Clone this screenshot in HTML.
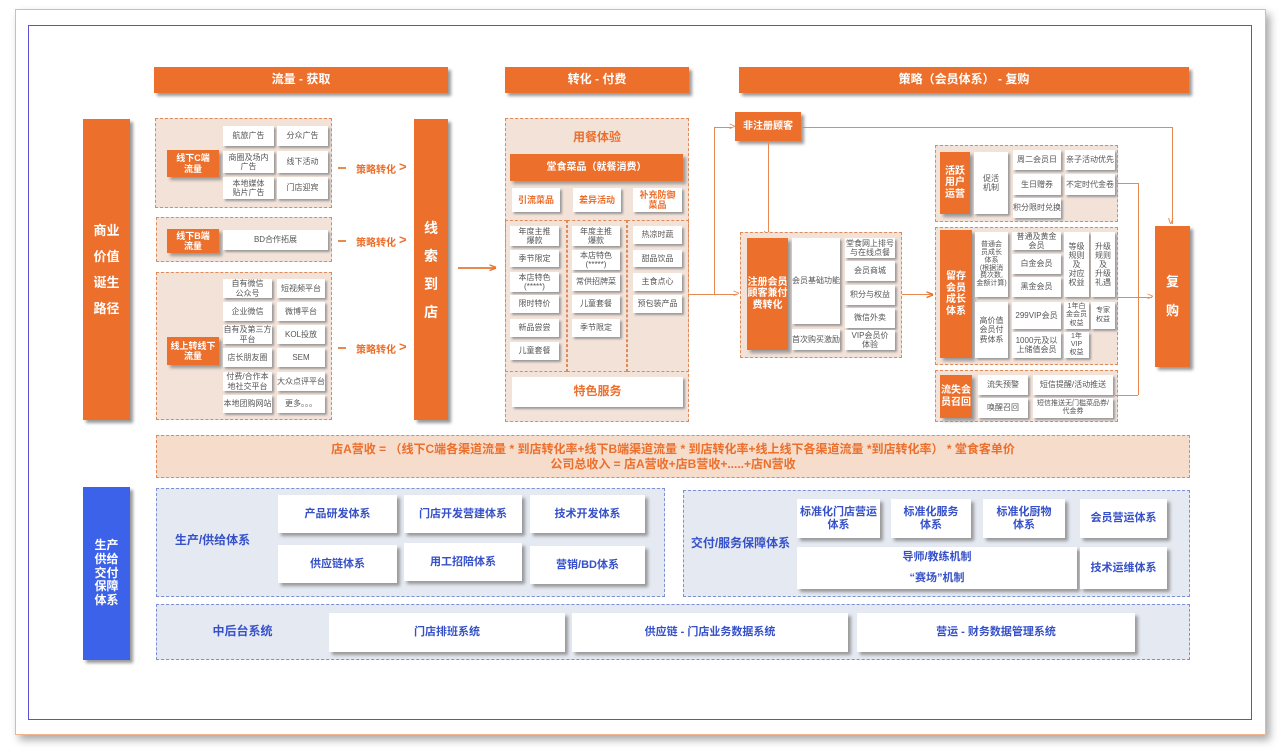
<!DOCTYPE html>
<html><head><meta charset="utf-8">
<style>
*{margin:0;padding:0;box-sizing:border-box}
body{width:1280px;height:755px;background:#fff;position:relative;overflow:hidden;font-family:"Liberation Sans","Noto Sans CJK SC",sans-serif}
div{position:absolute}
.c{display:flex;align-items:center;justify-content:center;text-align:center;line-height:1.15}
.o{background:#ec6f2c;color:#fff;font-weight:bold;box-shadow:3px 3px 3px #9a9a9a}
.w{background:#fff;color:#555;font-size:8px;box-shadow:2px 2px 2px #9a9a9a}
.db{border:1px dashed #e08a5a;background:#f3e2d8}
.bb{border:1px dashed #7d8fd6;background:#e4e9f2}
.bw{background:#fff;color:#3550c8;font-size:11px;font-weight:bold;box-shadow:3px 3px 3px #999}
.ln{background:#e8894f}
.ar{color:#e8894f;font-size:11px;line-height:10px}
.st{color:#ec6f2c;font-size:10px;font-weight:bold}
.ah{color:#ec6f2c;font-size:13px;font-weight:bold;line-height:12px}
</style></head><body>
<div style="left:15px;top:9px;width:1251px;height:726px;border:1px solid #f0b48e;box-shadow:4px 5px 8px #aaa;background:#fff"></div>
<div style="left:28px;top:25px;width:1224px;height:695px;border:1px solid #5a50d0"></div>

<div class="c o" style="left:154px;top:67px;width:294px;height:26px;font-size:12px">流量 - 获取</div>
<div class="c o" style="left:505px;top:67px;width:184px;height:26px;font-size:12px">转化 - 付费</div>
<div class="c o" style="left:739px;top:67px;width:450px;height:26px;font-size:12px">策略（会员体系） - 复购</div>

<div class="c o" style="left:83px;top:119px;width:47px;height:301px;font-size:13px;line-height:2">商业<br>价值<br>诞生<br>路径</div>
<div class="c" style="left:83px;top:487px;width:47px;height:173px;font-size:12px;background:#3d62ea;color:#fff;font-weight:bold;box-shadow:3px 3px 3px #999">生产<br>供给<br>交付<br>保障<br>体系</div>

<div class="db" style="left:155px;top:118px;width:177px;height:90px"></div>
<div class="c o" style="left:167px;top:150px;width:52px;height:27px;font-size:9px">线下C端<br>流量</div>
<div class="c w" style="left:223px;top:126px;width:51px;height:20px">航旅广告</div>
<div class="c w" style="left:277px;top:126px;width:51px;height:20px">分众广告</div>
<div class="c w" style="left:223px;top:151px;width:51px;height:22px">商圈及场内<br>广告</div>
<div class="c w" style="left:277px;top:151px;width:51px;height:22px">线下活动</div>
<div class="c w" style="left:223px;top:177px;width:51px;height:22px">本地媒体<br>贴片广告</div>
<div class="c w" style="left:277px;top:177px;width:51px;height:22px">门店迎宾</div>

<div class="db" style="left:156px;top:217px;width:176px;height:45px"></div>
<div class="c o" style="left:167px;top:229px;width:52px;height:24px;font-size:9px">线下B端<br>流量</div>
<div class="c w" style="left:223px;top:230px;width:105px;height:20px">BD合作拓展</div>

<div class="db" style="left:156px;top:272px;width:176px;height:148px"></div>
<div class="c o" style="left:167px;top:337px;width:52px;height:28px;font-size:9px">线上转线下<br>流量</div>
<div class="c w" style="left:223px;top:279px;width:49px;height:19px">自有微信<br>公众号</div>
<div class="c w" style="left:277px;top:279px;width:48px;height:19px">短视频平台</div>
<div class="c w" style="left:223px;top:302px;width:49px;height:19px">企业微信</div>
<div class="c w" style="left:277px;top:302px;width:48px;height:19px">微博平台</div>
<div class="c w" style="left:223px;top:325px;width:49px;height:19px">自有及第三方<br>平台</div>
<div class="c w" style="left:277px;top:325px;width:48px;height:19px">KOL投放</div>
<div class="c w" style="left:223px;top:348px;width:49px;height:19px">店长朋友圈</div>
<div class="c w" style="left:277px;top:348px;width:48px;height:19px">SEM</div>
<div class="c w" style="left:223px;top:372px;width:49px;height:19px">付费/合作本<br>地社交平台</div>
<div class="c w" style="left:277px;top:372px;width:48px;height:19px">大众点评平台</div>
<div class="c w" style="left:223px;top:395px;width:49px;height:18px">本地团购网站</div>
<div class="c w" style="left:277px;top:395px;width:48px;height:18px">更多。。。</div>

<div class="ln" style="left:338px;top:167px;width:8px;height:2px"></div><div class="st" style="left:356px;top:161px">策略转化</div><div class="ah" style="left:399px;top:161px">&gt;</div>
<div class="ln" style="left:338px;top:240px;width:8px;height:2px"></div><div class="st" style="left:356px;top:234px">策略转化</div><div class="ah" style="left:399px;top:234px">&gt;</div>
<div class="ln" style="left:338px;top:347px;width:8px;height:2px"></div><div class="st" style="left:356px;top:341px">策略转化</div><div class="ah" style="left:399px;top:341px">&gt;</div>

<div class="c o" style="left:414px;top:119px;width:34px;height:301px;font-size:14px;line-height:2">线<br>索<br>到<br>店</div>
<div class="ln" style="left:458px;top:267px;width:38px;height:2px"></div><div class="ah" style="left:489px;top:262px">&gt;</div>

<div class="db" style="left:505px;top:118px;width:184px;height:304px"></div>
<div class="c" style="left:505px;top:128px;width:184px;height:20px;color:#ec6f2c;font-weight:bold;font-size:12px">用餐体验</div>
<div class="c o" style="left:510px;top:154px;width:173px;height:27px;font-size:10px">堂食菜品（就餐消费）</div>
<div class="c w" style="left:512px;top:188px;width:48px;height:24px;color:#ec6f2c;font-weight:bold;font-size:9px">引流菜品</div>
<div class="c w" style="left:573px;top:188px;width:48px;height:24px;color:#ec6f2c;font-weight:bold;font-size:9px">差异活动</div>
<div class="c w" style="left:633px;top:188px;width:49px;height:24px;color:#ec6f2c;font-weight:bold;font-size:9px">补充防御<br>菜品</div>
<div style="left:505px;top:220px;width:62px;height:152px;border:1px dashed #e08a5a"></div>
<div style="left:567px;top:220px;width:60px;height:152px;border:1px dashed #e08a5a"></div>
<div style="left:627px;top:220px;width:62px;height:152px;border:1px dashed #e08a5a"></div>
<div class="c w" style="left:510px;top:226px;width:49px;height:20px">年度主推<br>爆款</div>
<div class="c w" style="left:510px;top:250px;width:49px;height:17px">季节限定</div>
<div class="c w" style="left:510px;top:272px;width:49px;height:20px">本店特色<br>(*****)</div>
<div class="c w" style="left:510px;top:295px;width:49px;height:18px">限时特价</div>
<div class="c w" style="left:510px;top:319px;width:49px;height:18px">新品尝尝</div>
<div class="c w" style="left:510px;top:342px;width:49px;height:18px">儿童套餐</div>
<div class="c w" style="left:572px;top:226px;width:48px;height:20px">年度主推<br>爆款</div>
<div class="c w" style="left:572px;top:250px;width:48px;height:20px">本店特色<br>(*****)</div>
<div class="c w" style="left:572px;top:273px;width:48px;height:18px">常供招牌菜</div>
<div class="c w" style="left:572px;top:295px;width:48px;height:18px">儿童套餐</div>
<div class="c w" style="left:572px;top:319px;width:48px;height:18px">季节限定</div>
<div class="c w" style="left:633px;top:226px;width:49px;height:18px">热凉时蔬</div>
<div class="c w" style="left:633px;top:250px;width:49px;height:17px">甜品饮品</div>
<div class="c w" style="left:633px;top:273px;width:49px;height:18px">主食点心</div>
<div class="c w" style="left:633px;top:295px;width:49px;height:18px">预包装产品</div>
<div class="c w" style="left:512px;top:377px;width:171px;height:30px;color:#ec6f2c;font-weight:bold;font-size:12px">特色服务</div>

<div class="ln" style="left:689px;top:294px;width:48px;height:1px"></div><div class="ar" style="left:733px;top:289px">&gt;</div>
<div class="ln" style="left:714px;top:127px;width:1px;height:168px"></div>
<div class="ln" style="left:714px;top:127px;width:18px;height:1px"></div><div class="ar" style="left:729px;top:122px">&gt;</div>
<div class="c o" style="left:735px;top:112px;width:66px;height:29px;font-size:10px">非注册顾客</div>
<div class="ln" style="left:768px;top:141px;width:1px;height:96px"></div><div class="ar" style="left:764px;top:229px">v</div>
<div class="ln" style="left:801px;top:127px;width:371px;height:1px"></div>
<div class="ln" style="left:1172px;top:127px;width:1px;height:97px"></div><div class="ar" style="left:1168px;top:216px">v</div>

<div class="db" style="left:740px;top:232px;width:162px;height:126px"></div>
<div class="c o" style="left:747px;top:238px;width:41px;height:112px;font-size:10px">注册会员<br>顾客兼付<br>费转化</div>
<div class="c w" style="left:792px;top:238px;width:48px;height:86px">会员基础功能</div>
<div class="c w" style="left:792px;top:329px;width:48px;height:21px">首次购买激励</div>
<div class="c w" style="left:845px;top:238px;width:50px;height:20px">堂食网上排号<br>与在线点餐</div>
<div class="c w" style="left:845px;top:261px;width:50px;height:20px">会员商城</div>
<div class="c w" style="left:845px;top:285px;width:50px;height:20px">积分与权益</div>
<div class="c w" style="left:845px;top:308px;width:50px;height:20px">微信外卖</div>
<div class="c w" style="left:845px;top:330px;width:50px;height:20px">VIP会员价<br>体验</div>
<div class="ln" style="left:902px;top:294px;width:30px;height:1px"></div><div class="ah" style="left:926px;top:289px">&gt;</div>

<div class="db" style="left:935px;top:145px;width:183px;height:77px"></div>
<div class="c o" style="left:940px;top:152px;width:30px;height:62px;font-size:10px">活跃<br>用户<br>运营</div>
<div class="c w" style="left:974px;top:152px;width:34px;height:62px">促活<br>机制</div>
<div class="c w" style="left:1013px;top:150px;width:48px;height:20px">周二会员日</div>
<div class="c w" style="left:1065px;top:150px;width:50px;height:20px">亲子活动优先</div>
<div class="c w" style="left:1013px;top:174px;width:48px;height:21px">生日赠券</div>
<div class="c w" style="left:1065px;top:174px;width:50px;height:21px">不定时代金卷</div>
<div class="c w" style="left:1013px;top:198px;width:48px;height:20px">积分限时兑换</div>

<div class="db" style="left:935px;top:227px;width:183px;height:138px"></div>
<div class="c o" style="left:940px;top:230px;width:32px;height:128px;font-size:10px">留存<br>会员<br>成长<br>体系</div>
<div class="c w" style="left:975px;top:232px;width:33px;height:65px;font-size:7px;line-height:1.1">普通会<br>员成长<br>体系<br>(根据消<br>费次数,<br>金额计算)</div>
<div class="c w" style="left:975px;top:302px;width:33px;height:56px">高价值<br>会员付<br>费体系</div>
<div class="c w" style="left:1012px;top:232px;width:49px;height:18px">普通及黄金<br>会员</div>
<div class="c w" style="left:1012px;top:254px;width:49px;height:20px">白金会员</div>
<div class="c w" style="left:1012px;top:277px;width:49px;height:20px">黑金会员</div>
<div class="c w" style="left:1012px;top:302px;width:49px;height:27px">299VIP会员</div>
<div class="c w" style="left:1012px;top:332px;width:49px;height:26px">1000元及以<br>上储值会员</div>
<div class="c w" style="left:1064px;top:232px;width:25px;height:65px">等级<br>规则<br>及<br>对应<br>权益</div>
<div class="c w" style="left:1091px;top:232px;width:24px;height:65px">升级<br>规则<br>及<br>升级<br>礼遇</div>
<div class="c w" style="left:1064px;top:302px;width:25px;height:27px;font-size:7px">1年白<br>金会员<br>权益</div>
<div class="c w" style="left:1091px;top:302px;width:24px;height:27px;font-size:7px">专家<br>权益</div>
<div class="c w" style="left:1064px;top:332px;width:25px;height:26px;font-size:7px">1年<br>VIP<br>权益</div>

<div class="db" style="left:935px;top:370px;width:183px;height:52px"></div>
<div class="c o" style="left:940px;top:375px;width:32px;height:43px;font-size:10px">流失会<br>员召回</div>
<div class="c w" style="left:978px;top:375px;width:50px;height:20px">流失预警</div>
<div class="c w" style="left:978px;top:398px;width:50px;height:20px">唤醒召回</div>
<div class="c w" style="left:1033px;top:375px;width:80px;height:20px">短信提醒/活动推送</div>
<div class="c w" style="left:1033px;top:398px;width:80px;height:20px;font-size:7px">短信推送无门槛菜品券/<br>代金券</div>

<div class="ln" style="left:1115px;top:183px;width:23px;height:1px"></div>
<div class="ln" style="left:1138px;top:183px;width:1px;height:212px"></div>
<div class="ln" style="left:1115px;top:395px;width:23px;height:1px"></div>
<div class="ln" style="left:1118px;top:297px;width:34px;height:1px"></div><div class="ar" style="left:1147px;top:292px">&gt;</div>
<div class="c o" style="left:1155px;top:226px;width:35px;height:141px;font-size:13px;line-height:2.2">复<br>购</div>

<div style="left:156px;top:435px;width:1034px;height:43px;border:1px dashed #e08a5a;background:#f5dccb"></div>
<div class="c" style="left:156px;top:440px;width:1034px;height:34px;color:#ec6f2c;font-weight:bold;font-size:12px;line-height:15px">店A营收 =  （线下C端各渠道流量 * 到店转化率+线下B端渠道流量 * 到店转化率+线上线下各渠道流量 *到店转化率） * 堂食客单价<br>公司总收入 = 店A营收+店B营收+.....+店N营收</div>

<div class="bb" style="left:156px;top:488px;width:509px;height:109px"></div>
<div class="c" style="left:165px;top:530px;width:95px;height:22px;color:#3550c8;font-weight:bold;font-size:12px">生产/供给体系</div>
<div class="c bw" style="left:278px;top:495px;width:119px;height:38px">产品研发体系</div>
<div class="c bw" style="left:404px;top:495px;width:118px;height:38px">门店开发营建体系</div>
<div class="c bw" style="left:530px;top:495px;width:115px;height:38px">技术开发体系</div>
<div class="c bw" style="left:278px;top:545px;width:119px;height:38px">供应链体系</div>
<div class="c bw" style="left:404px;top:543px;width:118px;height:38px">用工招陪体系</div>
<div class="c bw" style="left:530px;top:546px;width:115px;height:38px">营销/BD体系</div>

<div class="bb" style="left:683px;top:490px;width:507px;height:107px"></div>
<div class="c" style="left:688px;top:533px;width:105px;height:22px;color:#3550c8;font-weight:bold;font-size:12px">交付/服务保障体系</div>
<div class="c bw" style="left:797px;top:499px;width:83px;height:39px">标准化门店营运<br>体系</div>
<div class="c bw" style="left:891px;top:499px;width:80px;height:39px">标准化服务<br>体系</div>
<div class="c bw" style="left:983px;top:499px;width:82px;height:39px">标准化厨物<br>体系</div>
<div class="c bw" style="left:1080px;top:499px;width:87px;height:39px">会员营运体系</div>
<div class="c bw" style="left:797px;top:547px;width:280px;height:42px;line-height:21px">导师/教练机制<br>“赛场”机制</div>
<div class="c bw" style="left:1080px;top:547px;width:87px;height:42px">技术运维体系</div>

<div class="bb" style="left:156px;top:604px;width:1034px;height:56px"></div>
<div class="c" style="left:200px;top:622px;width:85px;height:20px;color:#3550c8;font-weight:bold;font-size:12px">中后台系统</div>
<div class="c bw" style="left:329px;top:613px;width:236px;height:39px">门店排班系统</div>
<div class="c bw" style="left:572px;top:613px;width:276px;height:39px">供应链 - 门店业务数据系统</div>
<div class="c bw" style="left:857px;top:613px;width:278px;height:39px">营运 - 财务数据管理系统</div>
</body></html>
